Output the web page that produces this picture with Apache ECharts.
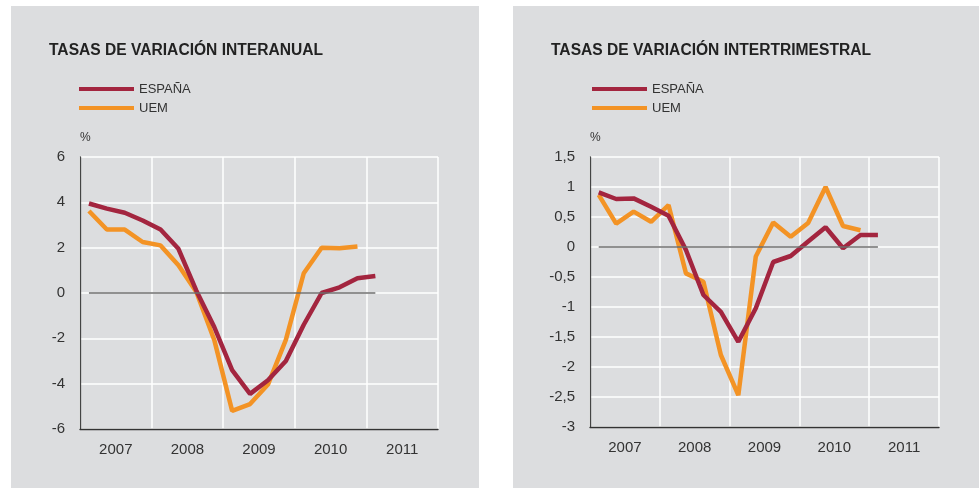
<!DOCTYPE html>
<html>
<head>
<meta charset="utf-8">
<script src="https://cdn.jsdelivr.net/npm/echarts@6/dist/echarts.min.js"></script>
<style>
html,body{margin:0;padding:0;background:#fff;}
#chart{width:979px;height:488px;}
</style>
</head>
<body>
<div id="chart"></div>
<script>
"use strict";

const years = ["2007", "2008", "2009", "2010", "2011"];
const quarters = [
	"2007-I", "2007-II", "2007-III", "2007-IV",
	"2008-I", "2008-II", "2008-III", "2008-IV",
	"2009-I", "2009-II", "2009-III", "2009-IV",
	"2010-I", "2010-II", "2010-III", "2010-IV",
	"2011-I", "2011-II", "2011-III", "2011-IV"
];

// tasas de variación interanual (%)
const espanaInteranual = [3.95, 3.72, 3.54, 3.2, 2.8, 1.95, 0.1, -1.5, -3.4, -4.45, -3.85, -3.0, -1.4, 0.0, 0.25, 0.65, 0.75];
const uemInteranual = [3.62, 2.8, 2.8, 2.25, 2.1, 1.22, 0.05, -2.07, -5.2, -4.9, -4.04, -2.07, 0.87, 2.0, 1.97, 2.05];

// tasas de variación intertrimestral (%)
const espanaIntertrimestral = [0.91, 0.8, 0.81, 0.67, 0.52, -0.05, -0.8, -1.08, -1.58, -1.02, -0.25, -0.15, 0.09, 0.33, -0.02, 0.2, 0.2];
const uemIntertrimestral = [0.87, 0.39, 0.59, 0.42, 0.7, -0.44, -0.58, -1.8, -2.47, -0.16, 0.41, 0.17, 0.4, 1.0, 0.35, 0.28];

const FONT = "Liberation Sans, Arial, sans-serif";
const RED = "#a3253f";
const ORANGE = "#f39325";
const PANEL = "#dcdddf";

const myChart = echarts.init(document.getElementById("chart"));

function yearAxis(grid){
	return {
		type: "category", gridIndex: grid, data: years, boundaryGap: true,
		axisLine: {onZero: false, lineStyle: {color: "#333", width: 1.3}},
		axisTick: {show: false},
		axisLabel: {color: "#333", fontSize: 15, fontFamily: FONT, margin: 13},
		splitLine: {show: true, lineStyle: {color: "#fff", width: 1.5}}
	};
}
function quarterAxis(grid){
	return {
		type: "category", gridIndex: grid, data: quarters, boundaryGap: true,
		show: false
	};
}
function valueAxis(grid, min, max, interval, fmt){
	return {
		type: "value", gridIndex: grid, min: min, max: max, interval: interval,
		name: "%", nameGap: 13,
		nameTextStyle: {color: "#333", fontSize: 12, fontFamily: FONT, align: "left"},
		axisLine: {show: true, onZero: false, lineStyle: {color: "#444", width: 1.3}},
		axisTick: {show: false},
		axisLabel: {color: "#333", fontSize: 15, fontFamily: FONT, margin: 15, formatter: fmt},
		splitLine: {lineStyle: {color: "#fff", width: 1.5}}
	};
}
function lineSeries(name, data, color, x, y){
	return {
		name: name, type: "line", data: data, xAxisIndex: x, yAxisIndex: y,
		color: color, symbol: "none", z: 3,
		lineStyle: {color: color, width: 4.5}
	};
}
function zeroSeries(x, y, last){
	return {
		type: "line", data: [], xAxisIndex: x, yAxisIndex: y, z: 2, silent: true,
		markLine: {
			silent: true, symbol: "none", label: {show: false},
			lineStyle: {color: "#6e6e6e", width: 1.5, type: "solid"},
			data: [[{coord: [quarters[0], 0]}, {coord: [quarters[last], 0]}]]
		}
	};
}
function legend(left){
	return {
		orient: "vertical", left: left, top: 82, padding: 0, icon: "rect",
		itemWidth: 55, itemHeight: 4, itemGap: 5,
		data: ["ESPAÑA", "UEM"],
		textStyle: {color: "#333", fontSize: 13, fontFamily: FONT, lineHeight: 14}
	};
}

const option = {
	animation: false,
	backgroundColor: "#fff",
	graphic: [
		{type: "rect", shape: {x: 11, y: 6, width: 468, height: 482}, style: {fill: PANEL}, z: -10},
		{type: "rect", shape: {x: 513, y: 6, width: 466, height: 482}, style: {fill: PANEL}, z: -10}
	],
	title: [
		{text: "TASAS DE VARIACIÓN INTERANUAL", left: 49, top: 43, padding: 0,
			textStyle: {color: "#222", fontSize: 15.6, fontWeight: "bold", fontFamily: FONT}},
		{text: "TASAS DE VARIACIÓN INTERTRIMESTRAL", left: 551, top: 43, padding: 0,
			textStyle: {color: "#222", fontSize: 15.6, fontWeight: "bold", fontFamily: FONT}}
	],
	legend: [legend(79), legend(592)],
	grid: [
		{left: 80, top: 157, width: 358, height: 272},
		{left: 590, top: 157, width: 349, height: 270}
	],
	xAxis: [yearAxis(0), quarterAxis(0), yearAxis(1), quarterAxis(1)],
	yAxis: [
		valueAxis(0, -6, 6, 2),
		valueAxis(1, -3, 1.5, 0.5, (v)=>String(v).replace(".", ","))
	],
	series: [
		zeroSeries(1, 0, 16),
		lineSeries("UEM", uemInteranual, ORANGE, 1, 0),
		lineSeries("ESPAÑA", espanaInteranual, RED, 1, 0),
		zeroSeries(3, 1, 16),
		lineSeries("UEM", uemIntertrimestral, ORANGE, 3, 1),
		lineSeries("ESPAÑA", espanaIntertrimestral, RED, 3, 1)
	]
};

myChart.setOption(option);
</script>
</body>
</html>
